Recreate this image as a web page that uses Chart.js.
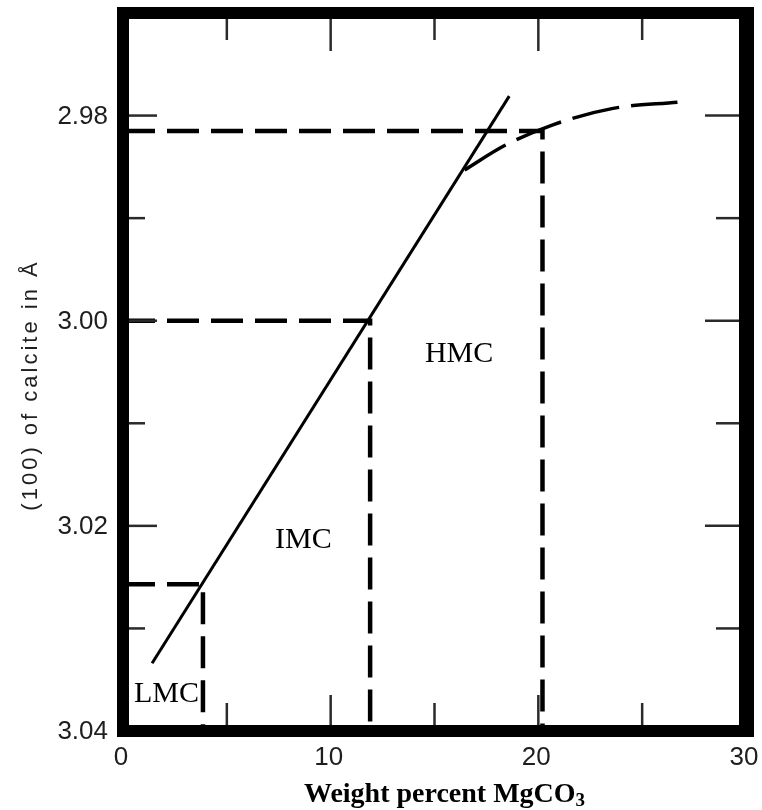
<!DOCTYPE html>
<html>
<head>
<meta charset="utf-8">
<title>Calcite d(100) vs MgCO3</title>
<script src="https://cdn.jsdelivr.net/npm/chart.js@4.4.1/dist/chart.umd.min.js"></script>
<style>
  html, body { margin: 0; padding: 0; background: #fff; }
  canvas { display: block; }
</style>
</head>
<body>
<canvas id="calciteChart" width="762" height="810"></canvas>
<script>
// values (x = wt% MgCO3, y = d-spacing in Å)
const lineMg = [1.4, 18.6];
const lineD = [3.0334, 2.9781];

const curveMg = [16.45, 18.4, 20.7, 23.6, 26.7];
const curveD = [2.9853, 2.9829, 2.9809, 2.9793, 2.9787];

// LMC / IMC / HMC boundaries
const cutoffMg = [3.85, 11.9, 20.2];
const cutoffD = [3.0257, 3.0, 2.9815];

const regionNames = ['LMC', 'IMC', 'HMC'];

const xTickValues = [0, 10, 20, 30];
const xTickLabels = ['0', '10', '20', '30'];
const xMinorTicks = [5, 15, 25];
const yTickValues = [2.98, 3.00, 3.02, 3.04];
const yTickLabels = ['2.98', '3.00', '3.02', '3.04'];
const yMinorTicks = [2.99, 3.01, 3.03];

const xMin = 0, xMax = 30;
const yMin = 2.97, yMax = 3.04;

const toPoints = (xs, ys) => xs.map((v, i) => ({ x: v, y: ys[i] }));

const cutoffSets = cutoffMg.map((m, i) => ({
    data: [{ x: xMin, y: cutoffD[i] }, { x: m, y: cutoffD[i] }, { x: m, y: yMax }],
    showLine: true,
    borderColor: '#000',
    borderWidth: 4.5,
    borderDash: [32, 12],
    borderCapStyle: 'butt',
    pointRadius: 0,
}));

// frame, inward ticks, labels and titles, all placed through the scales
const framePlugin = {
    id: 'frame',
    afterDatasetsDraw(chart, args, opts) {
        const { ctx, chartArea: a, scales: { x, y } } = chart;
        ctx.save();

        ctx.strokeStyle = '#2a2a2a';
        ctx.lineWidth = 2.5;
        const tick = (x1, y1, x2, y2) => {
            ctx.beginPath();
            ctx.moveTo(x1, y1);
            ctx.lineTo(x2, y2);
            ctx.stroke();
        };
        xTickValues.forEach(v => {
            const px = x.getPixelForValue(v);
            tick(px, a.top + 6, px, a.top + 38);
            tick(px, a.bottom - 6, px, a.bottom - 36);
        });
        xMinorTicks.forEach(v => {
            const px = x.getPixelForValue(v);
            tick(px, a.top + 6, px, a.top + 27);
            tick(px, a.bottom - 6, px, a.bottom - 28);
        });
        yTickValues.forEach(v => {
            const py = y.getPixelForValue(v);
            tick(a.left + 6, py, a.left + 34, py);
            tick(a.right - 7, py, a.right - 41, py);
        });
        yMinorTicks.forEach(v => {
            const py = y.getPixelForValue(v);
            tick(a.left + 6, py, a.left + 22, py);
            tick(a.right - 7, py, a.right - 30, py);
        });

        ctx.fillStyle = '#000';
        ctx.fillRect(a.left - 6, a.top - 6, a.right - a.left + 12, 12);
        ctx.fillRect(a.left - 6, a.bottom - 6, a.right - a.left + 14, 12);
        ctx.fillRect(a.left - 6, a.top - 6, 12, a.bottom - a.top + 12);
        ctx.fillRect(a.right - 7, a.top - 6, 15, a.bottom - a.top + 12);

        ctx.fillStyle = '#1e1e1e';
        ctx.font = '26px "Liberation Sans", Arial, sans-serif';
        ctx.textAlign = 'right';
        ctx.textBaseline = 'middle';
        yTickValues.forEach((v, i) => {
            ctx.fillText(yTickLabels[i], a.left - 15, y.getPixelForValue(v) + 1);
        });
        ctx.textAlign = 'center';
        ctx.textBaseline = 'top';
        xTickValues.forEach((v, i) => {
            ctx.fillText(xTickLabels[i], x.getPixelForValue(v) - 2, a.bottom + 14);
        });

        ctx.fillStyle = '#000';
        ctx.font = '30px "Liberation Serif", "Times New Roman", serif';
        ctx.textAlign = 'left';
        ctx.textBaseline = 'alphabetic';
        regionNames.forEach((name, i) => {
            const [mx, dy] = opts.anchors[i];
            ctx.fillText(name, x.getPixelForValue(mx), y.getPixelForValue(dy));
        });

        // x title with subscript
        const main = 'Weight percent MgCO';
        ctx.font = 'bold 28px "Liberation Serif", "Times New Roman", serif';
        const wMain = ctx.measureText(main).width;
        ctx.font = 'bold 19px "Liberation Serif", "Times New Roman", serif';
        const wSub = ctx.measureText('3').width;
        const startX = (a.left + a.right) / 2 + 10 - (wMain + wSub) / 2;
        ctx.font = 'bold 28px "Liberation Serif", "Times New Roman", serif';
        ctx.fillText(main, startX, a.bottom + 71);
        ctx.font = 'bold 19px "Liberation Serif", "Times New Roman", serif';
        ctx.fillText('3', startX + wMain, a.bottom + 75);

        // y title
        ctx.translate(37, (a.top + a.bottom) / 2 + 13);
        ctx.rotate(-Math.PI / 2);
        ctx.font = '22px "Liberation Sans", Arial, sans-serif';
        ctx.fillStyle = '#1e1e1e';
        ctx.letterSpacing = '3px';
        ctx.textAlign = 'center';
        ctx.fillText('(100) of calcite in Å', 0, 0);

        ctx.restore();
    },
};

new Chart(document.getElementById('calciteChart'), {
    type: 'scatter',
    data: {
        datasets: [
            {
                data: toPoints(lineMg, lineD),
                showLine: true,
                borderColor: '#000',
                borderWidth: 3,
                pointRadius: 0,
            },
            {
                data: toPoints(curveMg, curveD),
                showLine: true,
                cubicInterpolationMode: 'monotone',
                borderColor: '#000',
                borderWidth: 3.5,
                borderDash: [48, 12],
                pointRadius: 0,
            },
            ...cutoffSets,
        ],
    },
    options: {
        responsive: false,
        animation: false,
        events: [],
        layout: { padding: { left: 123, right: 16, top: 13, bottom: 79 } },
        plugins: {
            legend: { display: false },
            tooltip: { enabled: false },
            frame: {
                anchors: [[0.53, 3.0372], [7.32, 3.0222], [14.54, 3.0040]],
            },
        },
        scales: {
            x: { type: 'linear', min: xMin, max: xMax, display: false },
            y: { type: 'linear', min: yMin, max: yMax, reverse: true, display: false },
        },
    },
    plugins: [framePlugin],
});
</script>
</body>
</html>
